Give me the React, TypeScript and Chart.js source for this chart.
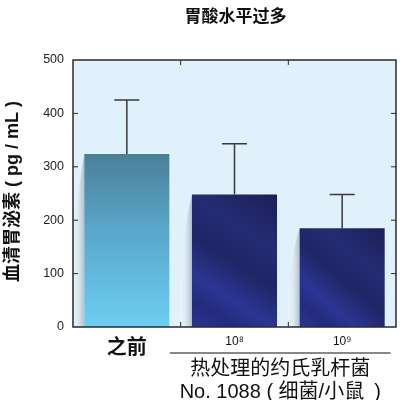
import React, { useEffect, useRef } from "react";
import { Chart, registerables } from "chart.js";

Chart.register(...registerables);

const categories = ["之前", "10⁸", "10⁹"];
const means = [324, 248, 185];
const errors = [101, 95, 63];
const yMin = 0;
const yMax = 500;
const yStep = 100;
const titleText = "胃酸水平过多";
const yTitleText = "血清胃泌素 ( pg / mL )";
const groupLines = ["热处理的约氏乳杆菌", "No. 1088 ( 细菌/小鼠\u2002)"];

const FAMILY = "'Liberation Sans', 'Noto Sans CJK SC', sans-serif";
const CJK = "'Noto Sans CJK SC', 'Liberation Sans', sans-serif";

function barFill(c: any) {
  const chart = c.chart;
  const xs = chart.scales.x;
  const ys = chart.scales.y;
  const ctx = chart.ctx;
  if (!xs || !ys || !chart.chartArea) return "#25308a";
  const i = c.dataIndex;
  const v = means[i];
  const top = ys.getPixelForValue(v);
  const base = ys.getPixelForValue(0);
  if (i === 0) {
    const g = ctx.createLinearGradient(0, top, 0, base);
    g.addColorStop(0, "#4a8098");
    g.addColorStop(0.45, "#5aa8cc");
    g.addColorStop(1, "#6dcdf2");
    return g;
  }
  const cx = xs.getPixelForValue(i);
  const cw = Math.abs(xs.getPixelForValue(1) - xs.getPixelForValue(0)) * 0.79;
  const g = ctx.createLinearGradient(cx + cw / 2, top, cx - cw / 2, base);
  g.addColorStop(0, "#1d1f55");
  g.addColorStop(0.3, "#242c74");
  g.addColorStop(0.5, "#1f2566");
  g.addColorStop(0.72, "#2a3693");
  g.addColorStop(0.85, "#232b7c");
  g.addColorStop(1, "#2a3590");
  return g;
}

const decorPlugin = {
  id: "decor",
  beforeDraw(chart: any) {
    const { ctx, chartArea, width, height } = chart;
    ctx.save();
    ctx.fillStyle = "#ffffff";
    ctx.fillRect(0, 0, width, height);
    ctx.fillStyle = "#e0f1fb";
    ctx.fillRect(chartArea.left, chartArea.top, chartArea.right - chartArea.left, chartArea.bottom - chartArea.top);
    ctx.restore();
  },
  beforeDatasetsDraw(chart: any) {
    const { ctx } = chart;
    const meta = chart.getDatasetMeta(0);
    ctx.save();
    meta.data.forEach((bar: any) => {
      const left = bar.x - bar.width / 2;
      const top = bar.y;
      const base = bar.base;
      const w = 12;
      const g = ctx.createLinearGradient(left, 0, left - w, 0);
      g.addColorStop(0, "rgba(150,160,170,0.6)");
      g.addColorStop(0.5, "rgba(215,225,232,0.55)");
      g.addColorStop(1, "rgba(245,250,253,0.5)");
      ctx.fillStyle = g;
      ctx.beginPath();
      ctx.moveTo(left, top);
      ctx.quadraticCurveTo(left - w, top + (base - top) * 0.35, left - w, base);
      ctx.lineTo(left, base);
      ctx.closePath();
      ctx.fill();
    });
    ctx.restore();
  },
  afterDatasetsDraw(chart: any) {
    const { ctx, chartArea } = chart;
    const xs = chart.scales.x;
    const ys = chart.scales.y;
    ctx.save();
    ctx.strokeStyle = "#3a3a3a";
    ctx.lineWidth = 1.5;
    means.forEach((m, i) => {
      const x = xs.getPixelForValue(i);
      const y0 = ys.getPixelForValue(m);
      const y1 = ys.getPixelForValue(m + errors[i]);
      ctx.beginPath();
      ctx.moveTo(x, y0);
      ctx.lineTo(x, y1);
      ctx.moveTo(x - 12.5, y1);
      ctx.lineTo(x + 12.5, y1);
      ctx.stroke();
    });
    ctx.strokeStyle = "#2a2a2a";
    ctx.lineWidth = 1.5;
    ctx.strokeRect(chartArea.left, chartArea.top, chartArea.right - chartArea.left, chartArea.bottom - chartArea.top);
    ctx.lineWidth = 1;
    ctx.beginPath();
    for (let v = yMin + yStep; v < yMax; v += yStep) {
      const y = ys.getPixelForValue(v);
      ctx.moveTo(chartArea.left, y);
      ctx.lineTo(chartArea.left + 5, y);
      ctx.moveTo(chartArea.right, y);
      ctx.lineTo(chartArea.right - 5, y);
    }
    for (let i = 0; i < categories.length - 1; i++) {
      const x = (xs.getPixelForValue(i) + xs.getPixelForValue(i + 1)) / 2;
      ctx.moveTo(x, chartArea.top);
      ctx.lineTo(x, chartArea.top + 5);
      ctx.moveTo(x, chartArea.bottom);
      ctx.lineTo(x, chartArea.bottom - 5);
    }
    ctx.stroke();
    ctx.restore();
  },
  afterDraw(chart: any) {
    const { ctx, chartArea } = chart;
    const xs = chart.scales.x;
    ctx.save();
    ctx.fillStyle = "#111111";
    ctx.textAlign = "center";
    ctx.textBaseline = "middle";
    ctx.font = `bold 17px ${CJK}`;
    ctx.fillText(titleText, (chartArea.left + chartArea.right) / 2 + 1, 16);
    ctx.save();
    ctx.translate(13, (chartArea.top + chartArea.bottom) / 2 - 2);
    ctx.rotate(-Math.PI / 2);
    ctx.font = `bold 18px ${FAMILY}`;
    ctx.fillText(yTitleText, 0, 0);
    ctx.restore();
    const cw = xs.getPixelForValue(1) - xs.getPixelForValue(0);
    const x0 = xs.getPixelForValue(1) - 0.6 * cw;
    const x1 = xs.getPixelForValue(2) + 0.45 * cw;
    const ly = chartArea.bottom + 26;
    ctx.strokeStyle = "#111111";
    ctx.lineWidth = 1.2;
    ctx.beginPath();
    ctx.moveTo(x0, ly);
    ctx.lineTo(x1, ly);
    ctx.stroke();
    ctx.font = `20px ${FAMILY}`;
    const cx = (x0 + x1) / 2;
    ctx.fillText(groupLines[0], cx, chartArea.bottom + 42);
    ctx.fillText(groupLines[1], cx, chartArea.bottom + 65);
    ctx.restore();
  },
};

export default function App() {
  const ref = useRef<HTMLCanvasElement>(null);
  useEffect(() => {
    if (!ref.current) return;
    const chart = new Chart(ref.current, {
      type: "bar",
      data: {
        labels: categories,
        datasets: [
          {
            data: means,
            backgroundColor: barFill as any,
            borderWidth: 0,
            barPercentage: 0.79,
            categoryPercentage: 1,
          },
        ],
      },
      options: {
        responsive: false,
        animation: false,
        events: [],
        layout: { padding: { top: 60, right: 4, left: 0, bottom: 0 } },
        plugins: { legend: { display: false }, tooltip: { enabled: false }, title: { display: false } },
        scales: {
          x: {
            grid: { display: false, drawTicks: false },
            border: { display: false },
            ticks: {
              padding: 7,
              color: "#111111",
              font: ((c: any) =>
                c.index === 0
                  ? { size: 20, weight: "bold", family: CJK }
                  : { size: 12, family: FAMILY }) as any,
            },
            afterFit: (s: any) => {
              s.height = 73;
            },
          },
          y: {
            min: yMin,
            max: yMax,
            grid: { display: false, drawTicks: false },
            border: { display: false },
            ticks: {
              stepSize: yStep,
              padding: 9,
              color: "#222222",
              font: { size: 12.5, family: FAMILY },
            },
            afterFit: (s: any) => {
              s.width = 73;
            },
          },
        },
      },
      plugins: [decorPlugin],
    });
    return () => chart.destroy();
  }, []);
  return (
    <div style={{ position: "fixed", left: 0, top: 0, width: 400, height: 400 }}>
      <canvas ref={ref} width={400} height={400} />
    </div>
  );
}
